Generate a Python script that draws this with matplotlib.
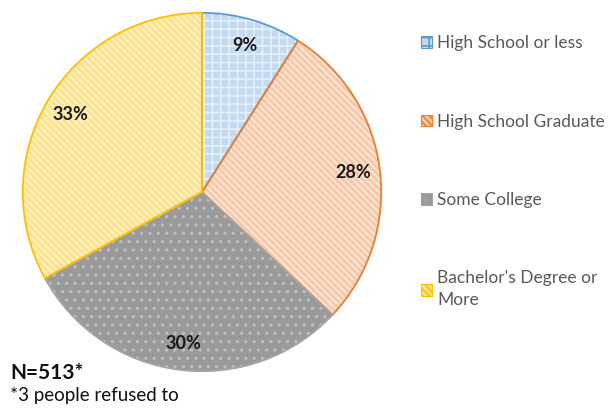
import matplotlib.pyplot as plt
from matplotlib.patches import Patch

plt.rcParams['font.family'] = ['Lato', 'DejaVu Sans']
plt.rcParams['hatch.linewidth'] = 1.2

categories = ["High School or less", "High School Graduate", "Some College",
              "Bachelor's Degree or\nMore"]
shares = [9, 28, 30, 33]

edge_colors = ['#5b9bd5', '#ed7d31', '#a5a5a5', '#ffc000']
fill_colors = ['#c3daf0', '#f8c8a8', '#9a9a9a', '#ffe38c']
hatch_colors = ['#e6f0fa', '#fdebe0', '#bdbdbd', '#fff4cf']
hatches = ['++', '\\\\\\\\\\', '..', '\\\\\\\\\\']

fig = plt.figure(figsize=(6.09, 4.09), dpi=100)
ax = fig.add_axes([21 / 609, 36 / 409, 362 / 609, 362 / 409])

wedges, texts, autotexts = ax.pie(
    shares, startangle=90, counterclock=False,
    autopct='%d%%', pctdistance=0.85,
    textprops=dict(fontsize=13, fontweight='bold', color='#1a1a1a'),
    wedgeprops=dict(linewidth=0))

for w, fc, hc, h in zip(wedges, fill_colors, hatch_colors, hatches):
    w.set_facecolor(fc)
    w.set_edgecolor(hc)
    w.set_hatch(h)

# outlines drawn on a second pass so the hatch colour stays light
outline, _ = ax.pie(shares, startangle=90, counterclock=False,
                    wedgeprops=dict(fill=False, linewidth=1.3))
for w, ec in zip(outline, edge_colors):
    w.set_edgecolor(ec)
ax.set_aspect('equal')
ax.set_xlim(-1.01, 1.01)
ax.set_ylim(-1.01, 1.01)

handles = [Patch(facecolor=fc, edgecolor=ec, hatch=h, linewidth=0.8)
           for fc, ec, h in zip(fill_colors, edge_colors, hatches)]
leg = fig.legend(handles, categories, loc='upper left',
                 bbox_to_anchor=(421 / 609, 1 - 35 / 409),
                 frameon=False, fontsize=12.5, labelspacing=3.6,
                 borderpad=0, borderaxespad=0,
                 handlelength=0.65, handleheight=0.65, handletextpad=0.3,
                 labelcolor='#595959')
leg.get_texts()[-1].set_linespacing(1.45)

fig.text(10 / 609, 1 - 373 / 409, "N=513*", fontsize=15, fontweight='bold',
         color='#111111', va='center')
fig.text(10 / 609, 1 - 396 / 409, "*3 people refused to", fontsize=13.5,
         color='#111111', va='center')

fig.savefig('out.png', dpi=100)
